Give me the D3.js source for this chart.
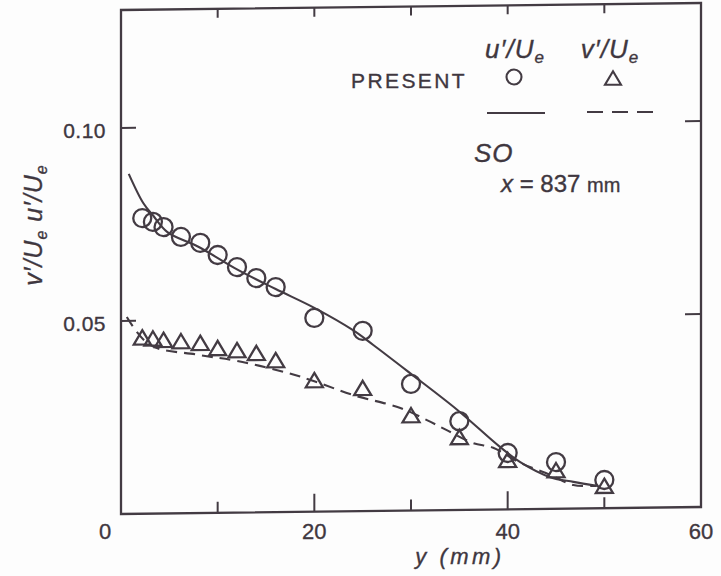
<!DOCTYPE html>
<html><head><meta charset="utf-8">
<script src="https://cdn.jsdelivr.net/npm/d3@7"></script>
<style>
body{margin:0;background:#fdfdfd}
svg{display:block}
text{font-family:"Liberation Sans",Arial,Helvetica,sans-serif;fill:#3f373f;stroke:#3f373f;stroke-width:0.35}
</style>
</head><body>
<svg id="chart" width="721" height="576"></svg>
<script>
// Present measurements: wall distance y (mm) and turbulence intensities
const presentY = [2.2, 3.3, 4.4, 6.2, 8.2, 10, 12, 14, 16, 20, 25, 30, 35, 40, 45, 50];
const presentU = [0.0766, 0.0756, 0.0742, 0.0716, 0.0700, 0.0668, 0.0636, 0.0607, 0.0583, 0.0502, 0.0467, 0.0328, 0.0230, 0.0146, 0.0121, 0.0073];
const presentV = [0.0457, 0.0454, 0.0450, 0.0446, 0.0441, 0.0427, 0.0421, 0.0413, 0.0394, 0.0341, 0.0319, 0.0247, 0.0189, 0.0128, 0.0100, 0.0058];

// SO profiles (u'/Ue solid, v'/Ue dashed)
const soUy = [0.8, 2.3, 3.3, 4.8, 8, 12, 16, 20, 24, 26.1, 29.9, 34.8, 39.2, 41.3, 44.4, 46.8, 49.2];
const soU  = [0.0881, 0.0805, 0.0773, 0.0729, 0.0690, 0.0630, 0.0578, 0.0528, 0.0469, 0.0430, 0.0356, 0.0259, 0.0162, 0.0122, 0.0082, 0.0069, 0.0058];
const soVy = [0.6, 3, 8, 12, 17, 20, 24, 28.9, 31.7, 33.7, 36.4, 38.5, 41.3, 44.4, 46.8, 49.2];
const soV  = [0.0510, 0.0437, 0.0410, 0.0393, 0.0362, 0.0338, 0.0301, 0.0266, 0.0233, 0.0207, 0.0173, 0.0160, 0.0120, 0.0088, 0.0061, 0.0058];

const xTickLabels = [0, 20, 40, 60];
const xTicksMajor = [20, 40];
const xTicksMinor = [10, 30, 50];
const yTickLabels = [0.05, 0.10];

const ink = "#433b43";
const svg = d3.select("#chart");

const x = d3.scaleLinear().domain([0, 60]).range([121, 701]);
const y = d3.scaleLinear().domain([0, 0.1]).range([514, 128]);
const yTop = 10; // top edge of the frame

// frame, ticks and curves sit in a slightly sheared group (the baseline drops toward the left)
const shear = -Math.atan(7 / 580) * 180 / Math.PI;
const g = svg.append("g")
  .attr("transform", `translate(${x(0)},${y(0)}) skewY(${shear}) translate(${-x(0)},${-y(0)})`);

g.append("rect")
  .attr("x", x(0)).attr("y", yTop)
  .attr("width", x(60) - x(0)).attr("height", y(0) - yTop)
  .attr("fill", "none").attr("stroke", ink).attr("stroke-width", 2.3);

// bottom ticks (pointing up)
g.selectAll(".tbM").data(xTicksMajor).join("line")
  .attr("x1", d => x(d)).attr("x2", d => x(d))
  .attr("y1", y(0)).attr("y2", y(0) - 18)
  .attr("stroke", ink).attr("stroke-width", 2);
g.selectAll(".tbm").data(xTicksMinor).join("line")
  .attr("x1", d => x(d)).attr("x2", d => x(d))
  .attr("y1", y(0)).attr("y2", y(0) - 11)
  .attr("stroke", ink).attr("stroke-width", 2);
// top ticks (pointing down)
g.selectAll(".tt").data([10, 20, 30, 40, 50]).join("line")
  .attr("x1", d => x(d)).attr("x2", d => x(d))
  .attr("y1", yTop).attr("y2", yTop + 9)
  .attr("stroke", ink).attr("stroke-width", 2);
// left and right ticks
g.selectAll(".tl").data(yTickLabels).join("line")
  .attr("x1", x(0)).attr("x2", x(0) + 15)
  .attr("y1", d => y(d)).attr("y2", d => y(d))
  .attr("stroke", ink).attr("stroke-width", 2);
g.selectAll(".tr").data(yTickLabels).join("line")
  .attr("x1", x(60) - 16).attr("x2", x(60))
  .attr("y1", d => y(d)).attr("y2", d => y(d))
  .attr("stroke", ink).attr("stroke-width", 2);

const line = d3.line().curve(d3.curveCatmullRom.alpha(0.5))
  .x(d => x(d[0])).y(d => y(d[1]));

g.append("path")
  .attr("d", line(d3.zip(soUy, soU)))
  .attr("fill", "none").attr("stroke", ink).attr("stroke-width", 2.1);
g.append("path")
  .attr("d", line(d3.zip(soVy, soV)))
  .attr("fill", "none").attr("stroke", ink).attr("stroke-width", 2.1)
  .attr("stroke-dasharray", "11,7");

// open triangle centred on its bounding box
const triBox = {
  draw(ctx, size) {
    const w = Math.sqrt(size), h = w * 0.84;
    ctx.moveTo(0, -h / 2);
    ctx.lineTo(w / 2, h / 2);
    ctx.lineTo(-w / 2, h / 2);
    ctx.closePath();
  }
};

g.selectAll(".pu").data(d3.zip(presentY, presentU)).join("circle")
  .attr("cx", d => x(d[0])).attr("cy", d => y(d[1])).attr("r", 9)
  .attr("fill", "none").attr("stroke", ink).attr("stroke-width", 2.3);

g.selectAll(".pv").data(d3.zip(presentY, presentV)).join("path")
  .attr("transform", d => `translate(${x(d[0])},${y(d[1])})`)
  .attr("d", d3.symbol().type(triBox).size(17 * 17))
  .attr("fill", "none").attr("stroke", ink).attr("stroke-width", 2.3)
  .attr("stroke-linejoin", "miter");

// tick labels
svg.selectAll(".xl").data(xTickLabels).join("text")
  .attr("x", d => d === 0 ? x(d) - 16 : x(d))
  .attr("y", 539)
  .attr("text-anchor", "middle")
  .attr("font-size", 22)
  .text(d => d);

svg.selectAll(".yl").data(yTickLabels).join("text")
  .attr("x", 106)
  .attr("y", d => y(d) + 10)
  .attr("text-anchor", "end")
  .attr("font-size", 21)
  .attr("letter-spacing", 0.5)
  .text(d => d3.format(".2f")(d));

// axis titles
svg.append("text")
  .attr("x", 460).attr("y", 564)
  .attr("text-anchor", "middle")
  .attr("font-size", 22).attr("font-style", "italic")
  .attr("letter-spacing", 3.5)
  .text("y (mm)");

const yt = svg.append("text")
  .attr("transform", "translate(42,225) rotate(-90)")
  .attr("text-anchor", "middle")
  .attr("font-size", 25).attr("font-style", "italic")
  .attr("letter-spacing", 1);
yt.append("tspan").text("v′/U");
yt.append("tspan").attr("font-size", 16).attr("dy", 5).text("e");
yt.append("tspan").attr("dy", -5).text("  u′/U");
yt.append("tspan").attr("font-size", 16).attr("dy", 5).text("e");

// legend
function ratioLabel(cx, by, sym) {
  const t = svg.append("text").attr("x", cx).attr("y", by)
    .attr("text-anchor", "middle").attr("font-size", 26).attr("font-style", "italic")
    .attr("letter-spacing", 1);
  t.append("tspan").text(sym + "′/U");
  t.append("tspan").attr("font-size", 17).attr("dy", 5).text("e");
}
ratioLabel(515, 58, "u");
ratioLabel(610, 58, "v");

svg.append("text").attr("x", 351).attr("y", 88)
  .attr("font-size", 21).attr("letter-spacing", 2.4).text("PRESENT");
svg.append("circle").attr("cx", 514).attr("cy", 77).attr("r", 7.5)
  .attr("fill", "none").attr("stroke", ink).attr("stroke-width", 2.1);
svg.append("path").attr("transform", "translate(613,78)")
  .attr("d", d3.symbol().type(triBox).size(16 * 16))
  .attr("fill", "none").attr("stroke", ink).attr("stroke-width", 2.1);

svg.append("line").attr("x1", 487).attr("x2", 545).attr("y1", 113).attr("y2", 113)
  .attr("stroke", ink).attr("stroke-width", 2);
svg.append("line").attr("x1", 587).attr("x2", 653).attr("y1", 112).attr("y2", 112)
  .attr("stroke", ink).attr("stroke-width", 2).attr("stroke-dasharray", "16,9");

svg.append("text").attr("x", 474).attr("y", 162)
  .attr("font-size", 26).attr("font-style", "italic").attr("letter-spacing", 1).text("SO");
const xt = svg.append("text").attr("x", 501).attr("y", 192).attr("font-size", 24);
xt.append("tspan").attr("font-style", "italic").text("x");
xt.append("tspan").text(" = 837 ");
xt.append("tspan").attr("font-size", 20).text("mm");
</script>
</body></html>
